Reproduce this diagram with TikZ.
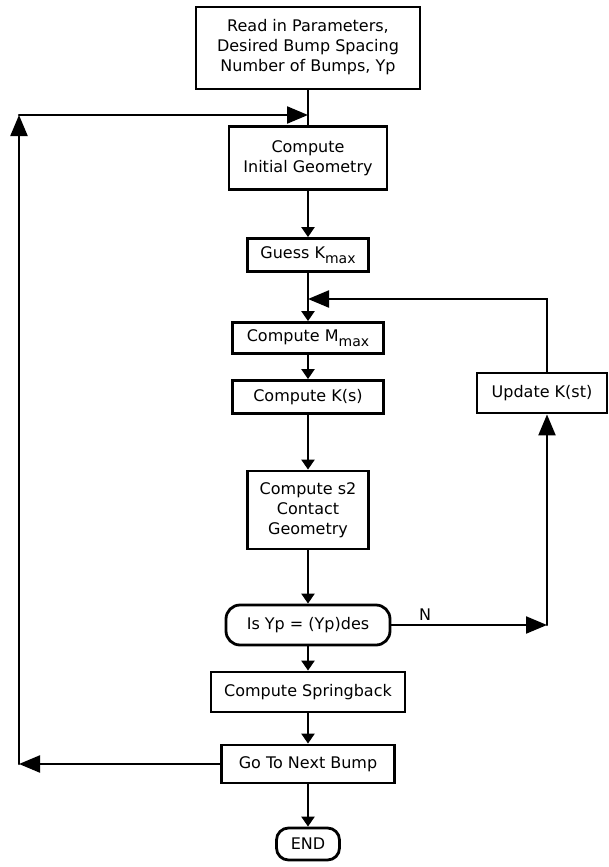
\documentclass[tikz,border=0pt]{standalone}
\usepackage{fontspec}
\setmainfont{DejaVu Sans}
\usetikzlibrary{arrows.meta}
\newcommand{\lowsub}[1]{\raisebox{-0.6ex}{\fontsize{14}{14}\selectfont #1}}

\begin{document}
\begin{tikzpicture}[x=1pt,y=-1pt,line cap=round]
% Styles
\tikzstyle{box}=[draw,line width=2.8pt,fill=white,inner sep=0pt,font=\fontsize{16}{20}\selectfont]
\tikzstyle{flow}=[line width=2.2pt,-{Triangle[length=10pt,width=13pt]}]
\tikzstyle{loop}=[line width=2.2pt,-{Triangle[length=21pt,width=17pt]}]
\tikzstyle{line}=[line width=2.2pt]

\useasboundingbox (0,0) rectangle (609,867);

% draw the nodes
\node[box,minimum width=224pt,minimum height=82pt] (read) at (308,48){\begin{tabular}{c}Read in Parameters,\\Desired Bump Spacing\\Number of Bumps, Yp\end{tabular}};
\node[box,minimum width=158pt,minimum height=63pt] (init) at (308,158){\begin{tabular}{c}Compute\\Initial Geometry\end{tabular}};
\node[box,minimum width=121pt,minimum height=33pt] (guess) at (308,255){Guess K\lowsub{max}};
\node[box,minimum width=151pt,minimum height=31pt] (mmax) at (308,338){Compute M\lowsub{max}};
\node[box,minimum width=151pt,minimum height=33pt] (ks) at (308,397){Compute K(s)};
\node[box,minimum width=121pt,minimum height=78pt] (contact) at (308,510){\begin{tabular}{c}Compute s2\\Contact\\Geometry\end{tabular}};
\node[box,rounded corners=14pt,minimum width=164pt,minimum height=40pt] (test) at (308,625){Is Yp = (Yp)des};
\node[box,minimum width=194pt,minimum height=40pt] (spring) at (308,692){Compute Springback};
\node[box,minimum width=173pt,minimum height=38pt] (next) at (308,764){Go To Next Bump};
\node[box,rounded corners=12pt,minimum width=63pt,minimum height=32pt] (finish) at (308,844){END};
\node[box,minimum width=130pt,minimum height=40pt] (update) at (542,393){Update K(st)};

\node[font=\fontsize{16}{20}\selectfont] (no) at (425,615){N};

% corners of the loops
\coordinate (loopin) at (308,115);
\coordinate (back) at (308,299);
\coordinate (rcol) at (547,0);
\coordinate (turn) at (547,625);
\coordinate (lt) at (19,115);
\coordinate (lb) at (19,764);

% main line
\draw[line] (read) -- (init);
\foreach \a/\b in {init/guess,guess/mmax,mmax/ks,ks/contact,contact/test,test/spring,spring/next,next/finish}
  \draw[flow] (\a) -- (\b);

% iteration on K
\draw[loop] (test.east) -- (turn);
\draw[loop] (turn) -- (update.south -| rcol);
\draw[loop] (update.north -| rcol) |- (back);

% next bump
\draw[loop] (next.west) -- (lb);
\draw[loop] (lb) -- (lt);
\draw[loop] (lt) -- (loopin);

\end{tikzpicture}
\end{document}
